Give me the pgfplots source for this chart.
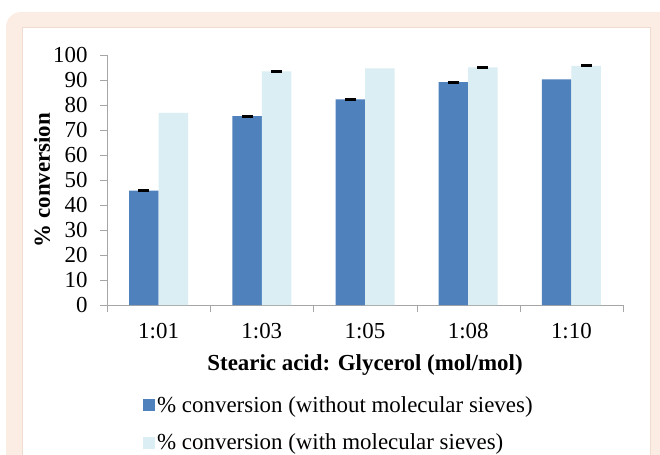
\documentclass[border=0pt]{standalone}
\usepackage{fontspec}
\setmainfont{Liberation Serif}
\usepackage{pgfplots}
\usepackage{pgfplotstable}
\pgfplotsset{compat=1.18}
\definecolor{barblue}{HTML}{4F81BD}
\definecolor{barlight}{HTML}{DBEEF3}
\definecolor{framebg}{HTML}{FBEDE3}
\definecolor{frameline}{HTML}{F0DCCE}
\definecolor{axisgray}{HTML}{A6A6A6}

% conversion (%) vs molar ratio
\pgfplotstableread{
x without with
0 45.8 76.9
1 75.6 93.5
2 82.3 94.7
3 89.2 95.1
4 90.3 95.7
}\conv

\begin{document}
\begin{tikzpicture}
\useasboundingbox (0,0) rectangle (660bp,-455bp);
\fill[framebg, rounded corners=15bp] (6bp,-12bp) rectangle (700bp,-520bp);
\filldraw[fill=white, draw=frameline] (22bp,-27bp) rectangle (650bp,-520bp);
\begin{axis}[
    at={(107bp,-305bp)}, anchor=south west,
    scale only axis, width=516bp, height=250bp,
    ymin=0, ymax=100, xmin=-0.5, xmax=4.5,
    ybar=0pt, bar width=29.5bp,
    axis lines*=left,
    axis line style={axisgray},
    tick style={axisgray},
    major tick length=7bp, tick align=outside,
    xtick={-0.5,0.5,...,4.5},
    x tick label as interval,
    xticklabels={1:01,1:03,1:05,1:08,1:10},
    ytick={0,10,...,100},
    /pgf/number format/assume math mode=true,
    tick label style={font=\rmfamily\fontsize{23}{27}\selectfont},
    xticklabel style={yshift=-8bp},
    yticklabel style={xshift=-9bp},
    xlabel={Stearic acid: Glycerol (mol/mol)},
    ylabel={\% conversion},
    label style={font=\rmfamily\bfseries\fontsize{23}{27}\selectfont},
    xlabel style={at={(axis description cs:0.5,-0.24)}, anchor=center},
    ylabel style={at={(axis description cs:-0.126,0.5)}, anchor=center},
    legend style={at={(axis description cs:0.064,-0.35)}, anchor=north west,
        draw=none, fill=none, font=\rmfamily\fontsize{23}{27}\selectfont, row sep=16bp},
    legend cell align=left,
    legend image code/.code={\fill[#1] (0bp,-6bp) rectangle (12bp,6bp);},
]
\addplot[fill=barblue, draw=none] table[x=x, y=without] {\conv};
\addplot[fill=barlight, draw=none] table[x=x, y=with] {\conv};
% error caps
\addplot[sharp plot, only marks, mark=-, mark size=5.5bp,
    mark options={line width=3bp, black}, forget plot] coordinates {
    (-0.143,45.8) (0.857,75.6) (1.857,82.3) (2.857,89.2)
    (1.143,93.5) (3.143,95.1) (4.143,95.7)
};
\legend{\% conversion (without molecular sieves), \% conversion (with molecular sieves)}
\end{axis}
\end{tikzpicture}
\end{document}
